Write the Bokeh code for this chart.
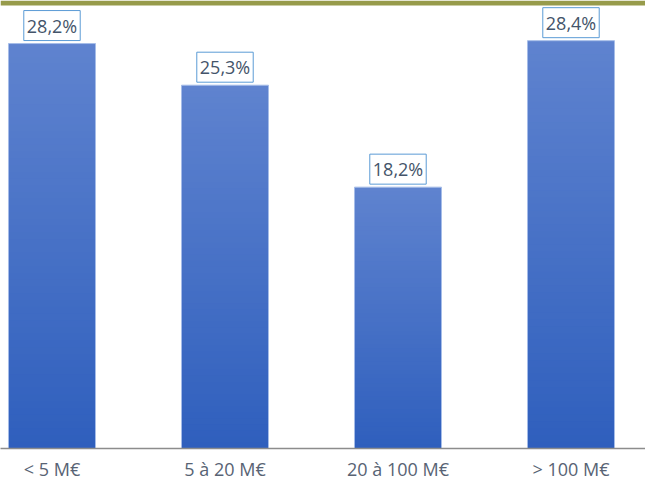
import numpy as np
from bokeh.plotting import figure
from bokeh.models import ColumnDataSource, Range1d, FixedTicker, BoxAnnotation
from bokeh.core.properties import value
from bokeh.embed import file_html
from bokeh.resources import INLINE

# ---- data ----
categories = ["< 5 M€", "5 à 20 M€", "20 à 100 M€", "> 100 M€"]
shares = [28.2, 25.3, 18.2, 28.4]
share_labels = ["28,2%", "25,3%", "18,2%", "28,4%"]

# ---- style ----
top_rgb = np.array([0x5f, 0x83, 0xcf])
bottom_rgb = np.array([0x2f, 0x5f, 0xbd])
bar_width = 0.503
n_slices = 60
W, H = 645, 485
px_per_cat = 173.0
x_start = -0.2977
frame_bottom_border = 37
px_per_unit = 14.36
y_end = (H - frame_bottom_border) / px_per_unit

p = figure(width=W, height=H, output_backend="svg", toolbar_location=None,
           x_range=Range1d(x_start, x_start + W / px_per_cat),
           y_range=Range1d(0, y_end),
           min_border_left=0, min_border_right=0, min_border_top=0,
           min_border_bottom=frame_bottom_border)

xpos = list(range(len(categories)))

# gradient bars: nested rectangles from the tallest to the shortest
sx, st, sc = [], [], []
for x, v in zip(xpos, shares):
    for k in range(n_slices - 1, -1, -1):
        t = (k + 0.5) / n_slices
        rgb = bottom_rgb + (top_rgb - bottom_rgb) * t
        sx.append(x)
        st.append(v * (k + 1) / n_slices)
        sc.append("#%02x%02x%02x" % tuple(int(round(c)) for c in rgb))
p.vbar(x="x", bottom=0, top="t", width=bar_width, fill_color="c",
       line_color=None, source=ColumnDataSource(dict(x=sx, t=st, c=sc)))

# thin light outline
p.vbar(x=xpos, top=shares, width=bar_width, fill_color=None,
       line_color="#a6bde8", line_width=1)

# value labels in boxes
p.text(x=xpos, y=shares, text=share_labels, text_align="center",
       text_baseline="bottom", y_offset=-3,
       text_font=value("Open Sans"), text_font_size="18px",
       text_color="#44546a", background_fill_color="white",
       border_line_color="#5b9bd5", border_line_width=1, padding=3)

# olive band along the top edge
p.add_layout(BoxAnnotation(bottom=y_end - 5 / px_per_unit, fill_color="#979b4b",
                           fill_alpha=1, line_color=None))

# axes
p.yaxis.visible = False
p.xgrid.grid_line_color = None
p.ygrid.grid_line_color = None
p.outline_line_color = None
p.xaxis.ticker = FixedTicker(ticks=xpos)
p.xaxis.major_label_overrides = {i: c for i, c in enumerate(categories)}
p.xaxis.axis_line_color = "#8c8c8c"
p.xaxis.axis_line_width = 1.5
p.xaxis.major_tick_line_color = None
p.xaxis.minor_tick_line_color = None
p.xaxis.major_label_text_font = "Open Sans"
p.xaxis.major_label_text_font_size = "18px"
p.xaxis.major_label_text_color = "#586374"
p.xaxis.major_label_standoff = 2

open("out.html", "w").write(file_html(p, INLINE))
